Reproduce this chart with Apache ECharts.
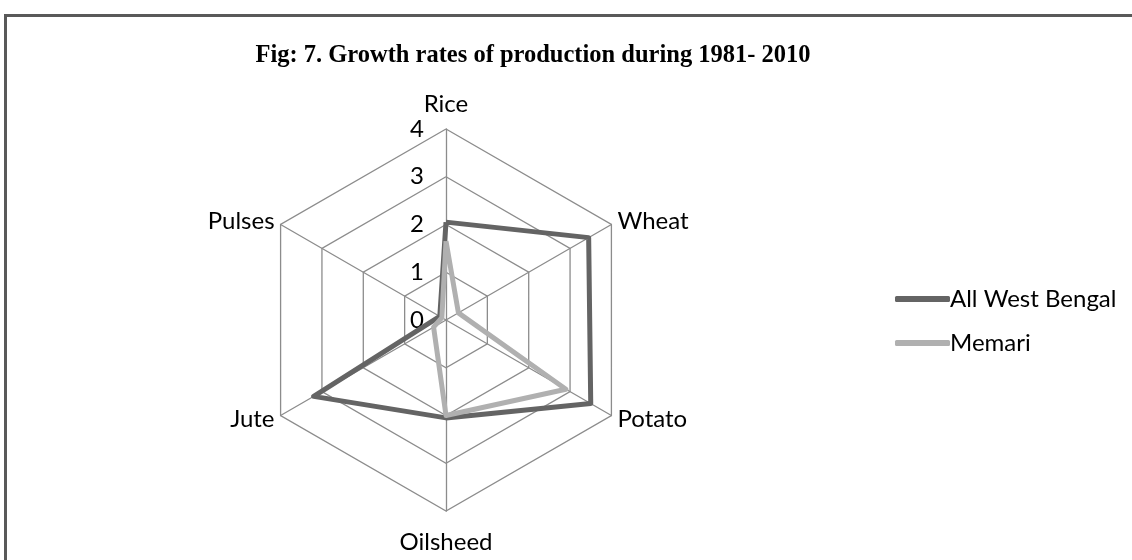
<!DOCTYPE html>
<html>
<head>
<meta charset="utf-8">
<script src="https://cdn.jsdelivr.net/npm/echarts@6/dist/echarts.min.js"></script>
<style>
  html, body { margin: 0; padding: 0; background: #fff; }
  #main { width: 1132px; height: 560px; position: relative; }
  #frame { position: absolute; left: 4px; top: 14px; width: 1140px; height: 600px;
           border: 3px solid #595959; box-sizing: border-box; pointer-events: none; }
</style>
</head>
<body>
<div id="main"></div>
<div id="frame"></div>
<script>
// crops around the hexagon, clockwise from the top
var crops = ['Rice', 'Wheat', 'Potato', 'Oilsheed', 'Jute', 'Pulses'];
var westBengal = [2.05, 3.45, 3.5, 2.05, 3.2, 0.15];
var memari = [1.65, 0.3, 2.9, 2.0, 0.3, 0.1];
var seriesNames = ['All West Bengal', 'Memari'];
var ticks = [0, 1, 2, 3, 4];

var center = [446, 320];
var radius = 191;
var labelFont = 'Lato';

// echarts radar goes anticlockwise, the excel one clockwise
function cw(arr) {
  return [arr[0]].concat(arr.slice(1).reverse());
}

var myChart = echarts.init(document.getElementById('main'));

var option = {
  animation: false,
  title: {
    text: 'Fig: 7. Growth rates of production during 1981- 2010',
    left: 528,
    textAlign: 'center',
    top: 38,
    textStyle: {
      fontFamily: 'Liberation Serif',
      fontWeight: 'bold',
      fontSize: 24.5,
      color: '#000'
    }
  },
  legend: {
    orient: 'vertical',
    left: 890,
    top: 282,
    itemGap: 20,
    itemWidth: 55,
    itemHeight: 6,
    icon: 'roundRect',
    data: seriesNames,
    textStyle: { fontFamily: labelFont, fontSize: 24, color: '#000', padding: [0, 0, 0, -5] }
  },
  radar: {
    center: center,
    radius: radius,
    startAngle: 90,
    shape: 'polygon',
    splitNumber: 4,
    indicator: cw(crops).map(function (c) { return { name: c, min: 0, max: 4 }; }),
    axisName: {
      color: '#000', fontFamily: labelFont, fontSize: 24,
      formatter: function (name) {
        if (name === crops[0]) return '{top|' + name + '}';
        if (name === crops[3]) return '{bottom|' + name + '}';
        return name;
      },
      rich: {
        top: { fontFamily: labelFont, fontSize: 24, color: '#000', padding: [0, 0, 6, 0] },
        bottom: { fontFamily: labelFont, fontSize: 24, color: '#000', padding: [12, 0, 0, 0] }
      }
    },
    nameGap: 7,
    splitArea: { show: false },
    splitLine: { lineStyle: { color: '#8c8c8c', width: 1.3 } },
    axisLine: { lineStyle: { color: '#8c8c8c', width: 1.3 } }
  },
  // polar only carries the 0-4 value labels up the Rice axis
  polar: { center: center, radius: radius },
  angleAxis: { show: false, startAngle: 90, min: 0, max: 360 },
  radiusAxis: {
    min: ticks[0], max: ticks[ticks.length - 1], interval: 1,
    axisLine: { show: false },
    axisTick: { show: false },
    splitLine: { show: false },
    axisLabel: { color: '#000', fontFamily: labelFont, fontSize: 24, margin: 22 }
  },
  series: [{
    type: 'radar',
    symbol: 'none',
    data: [
      { name: seriesNames[0], value: cw(westBengal),
        lineStyle: { color: '#646464', width: 5 }, itemStyle: { color: '#646464' } },
      { name: seriesNames[1], value: cw(memari),
        lineStyle: { color: '#b0b0b0', width: 5 }, itemStyle: { color: '#b0b0b0' } }
    ]
  }]
};

myChart.setOption(option);
</script>
</body>
</html>
